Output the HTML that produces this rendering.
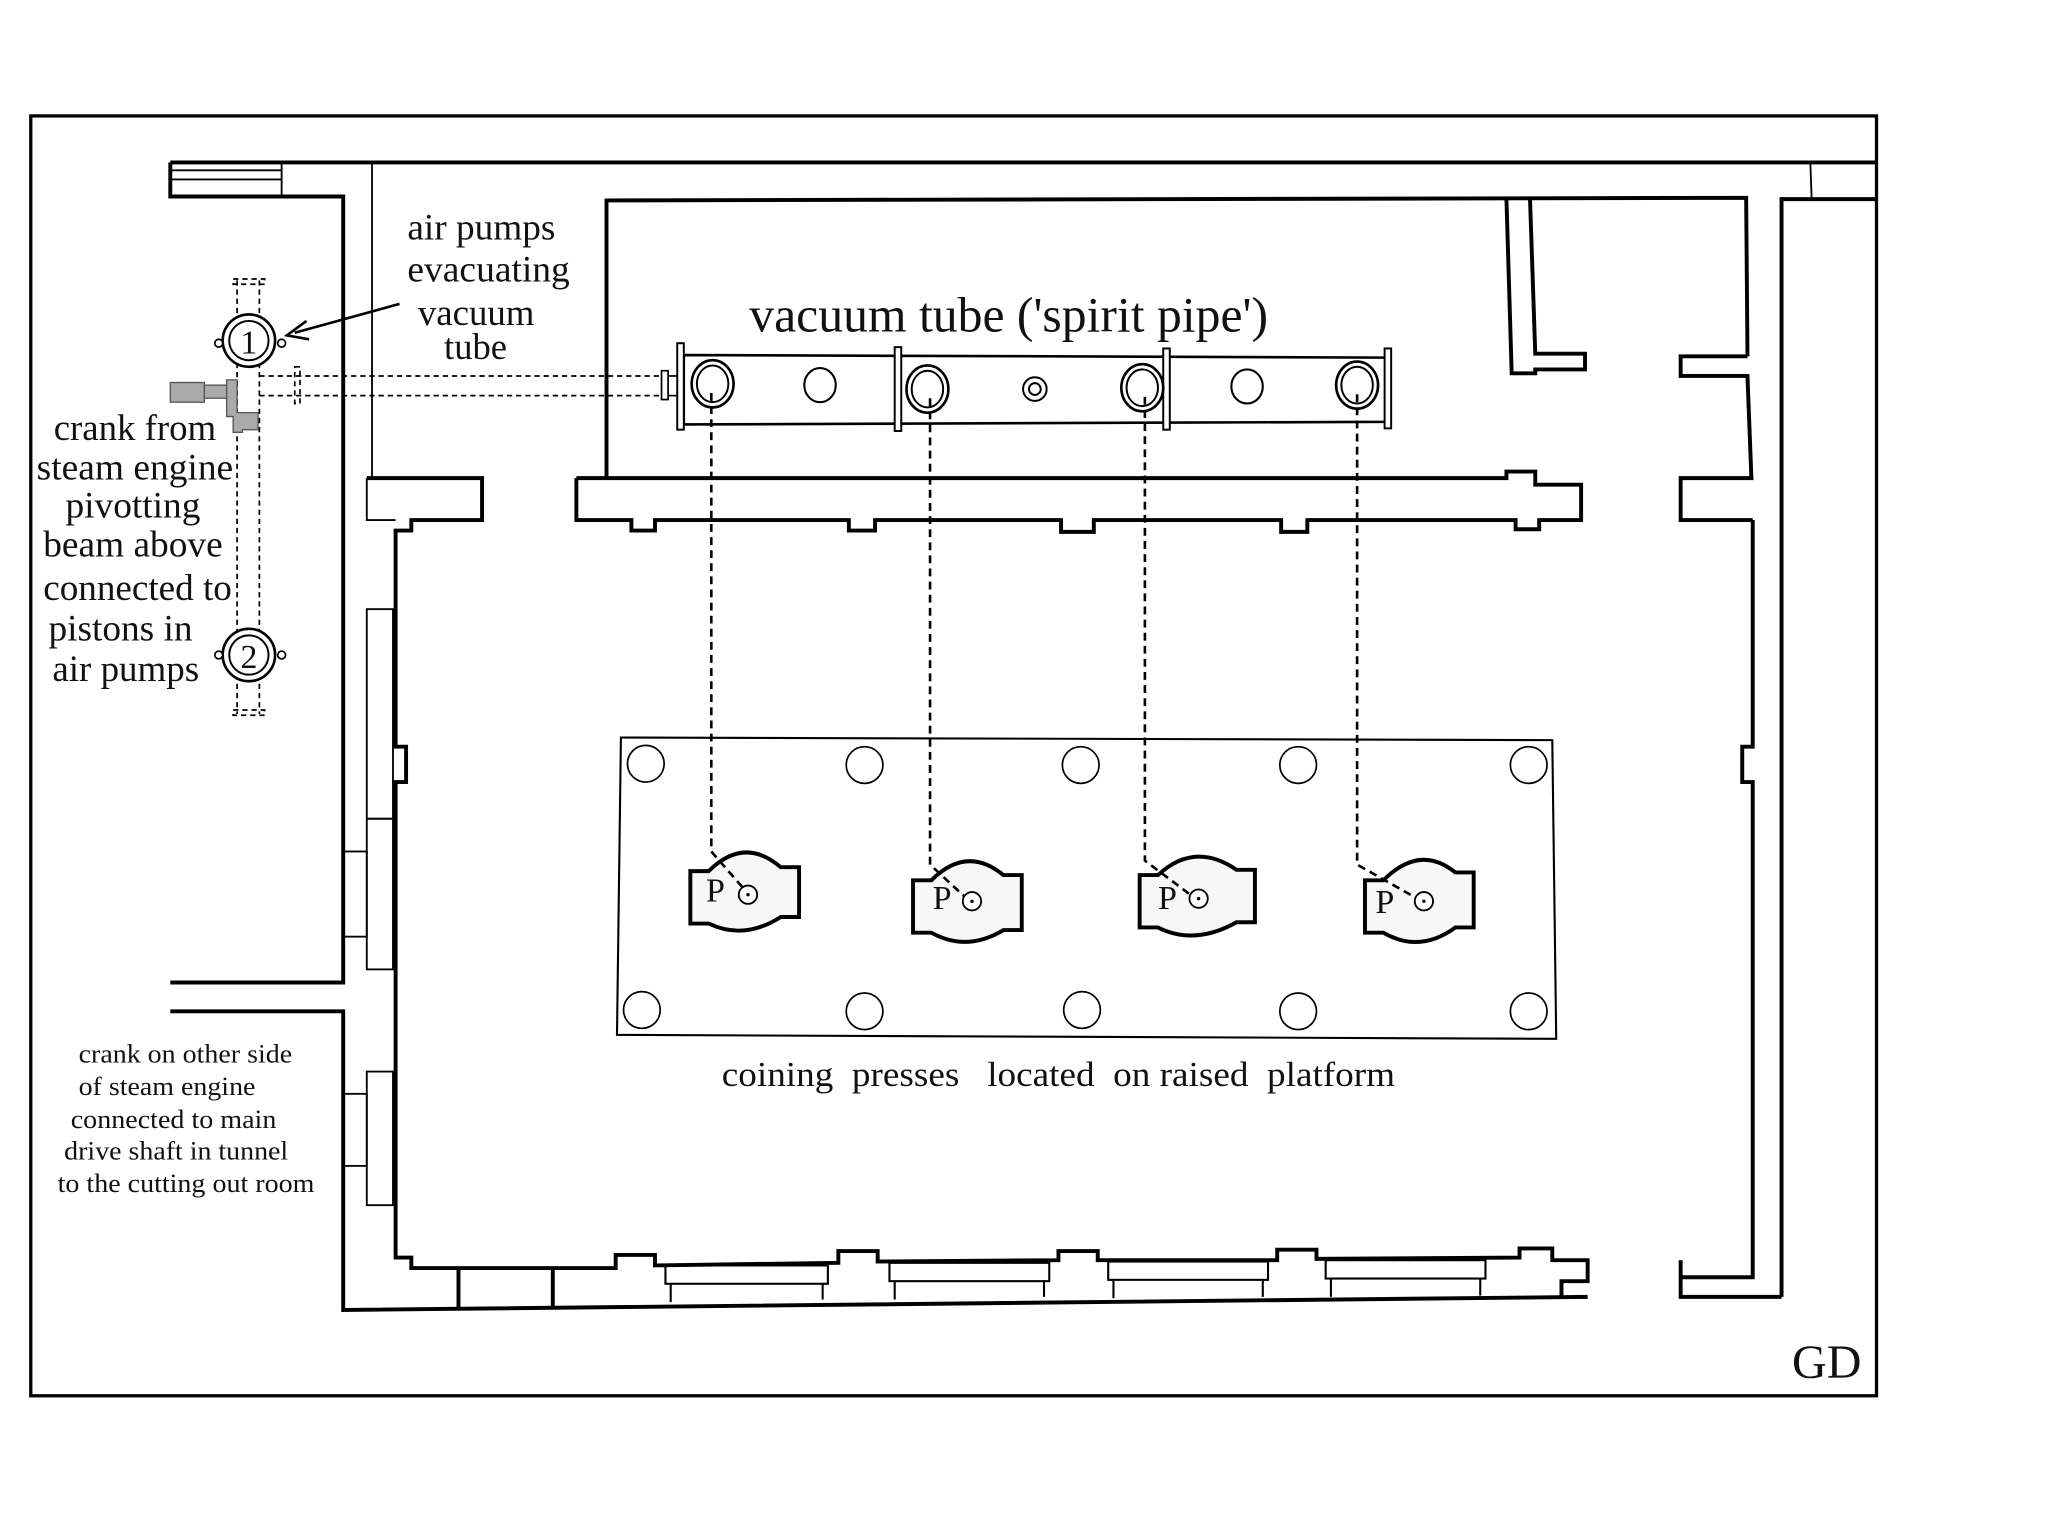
<!DOCTYPE html>
<html><head><meta charset="utf-8"><style>
html,body{margin:0;padding:0;background:#fff;}
svg{display:block;}
text{font-family:"Liberation Serif","Times New Roman",serif;fill:#111;}
</style></head><body>
<svg width="2054" height="1537" viewBox="0 0 1568 1173.3" preserveAspectRatio="none" xmlns="http://www.w3.org/2000/svg">
<rect x="0" y="0" width="1568" height="1174" fill="#fff"/>
<rect x="23.5" y="88.5" width="1409" height="977" fill="none" stroke="#000" stroke-width="2.5"/>

<g fill="none" stroke="#000" stroke-width="3" stroke-linejoin="miter">
<line x1="130" y1="124" x2="1432" y2="124"/>
<polyline points="130,124 130,150 262,150 262,750 130,750"/>
<polyline points="130,772 262,772 262,1000 1212,990"/>
<polyline points="1360,990 1360,152 1432,152"/>
<polyline points="280,365 368,365 368,397 314,397 314,405 302,405 302,570 310,570 310,597 302,597 302,960 314,960 314,968 470,968 470,958 500,958 500,966 640,964 640,955 670,955 670,963 808,962 808,955 838,955 838,962 975,962 975,954 1005,954 1005,961 1160,960 1160,953 1185,953 1185,962 1212,962 1212,978 1192,978 1192,990"/>
<polyline points="463,365 463,153 1333,151 1334,272"/>
<polyline points="440,365 440,397 482,397 482,405 500,405 500,397 648,397 648,405 668,405 668,397 810,397 810,406 835,406 835,397 978,397 978,406 998,406 998,397 1157,397 1157,404 1175,404 1175,397 1207,397 1207,370 1172,370 1172,360 1150,360 1150,365 440,365"/>
<polyline points="1150,152 1154,285 1172,285 1172,282 1210,282 1210,270 1172,270 1168,152"/>
<polyline points="1334,272 1283,272 1283,287 1334,287 1337,365 1283,365 1283,397 1338,397"/>
<polyline points="1338,397 1338,570 1330,570 1330,597 1338,597 1338,975 1283,975 1283,962 1283,990 1360,990"/>
</g>
<g fill="none" stroke="#000" stroke-width="1.4">
<line x1="130" y1="130" x2="215" y2="130"/><line x1="130" y1="137" x2="215" y2="137"/>
<line x1="215" y1="124" x2="215" y2="150"/>
<line x1="284" y1="124" x2="284" y2="365"/>
<line x1="1382" y1="124" x2="1383" y2="152"/>
<polyline points="280,365 280,397 302,397"/>
<rect x="280" y="465" width="20" height="160"/><rect x="280" y="625" width="20" height="115"/>
<rect x="262" y="650" width="18" height="65"/>
<rect x="280" y="818" width="20" height="102"/><rect x="262" y="835" width="18" height="55"/>
<g stroke-width="1.6">
<rect x="508" y="966" width="124" height="14"/><line x1="512" y1="980" x2="512" y2="994"/><line x1="628" y1="980" x2="628" y2="992"/>
<rect x="679" y="964" width="122" height="14"/><line x1="683" y1="978" x2="683" y2="992"/><line x1="797" y1="978" x2="797" y2="990"/>
<rect x="846" y="963" width="122" height="14"/><line x1="850" y1="977" x2="850" y2="991"/><line x1="964" y1="977" x2="964" y2="990"/>
<rect x="1012" y="962" width="122" height="14"/><line x1="1016" y1="976" x2="1016" y2="990"/><line x1="1130" y1="976" x2="1130" y2="989"/>
</g>
</g>
<line x1="350" y1="968" x2="350" y2="998" stroke="#000" stroke-width="3"/>
<line x1="422" y1="968" x2="422" y2="997" stroke="#000" stroke-width="3"/>

<g fill="none" stroke="#000" stroke-width="1.3" stroke-dasharray="4,3">
<line x1="181" y1="214" x2="181" y2="545"/><line x1="198" y1="214" x2="198" y2="545"/>
<rect x="178" y="213" width="24" height="4"/><rect x="178" y="542" width="24" height="4"/>
<line x1="198" y1="287" x2="508" y2="287"/><line x1="198" y1="302" x2="508" y2="302"/>
<rect x="225" y="280" width="4" height="28"/>
</g>
<g fill="#fff" stroke="#000" stroke-width="2">
<circle cx="190" cy="260" r="20"/><circle cx="190" cy="260" r="15" stroke-width="1.5"/>
<circle cx="190" cy="500" r="20"/><circle cx="190" cy="500" r="15" stroke-width="1.5"/>
</g>
<g fill="#fff" stroke="#000" stroke-width="1.3">
<circle cx="167" cy="262" r="3"/><circle cx="215" cy="262" r="3"/>
<circle cx="167" cy="500" r="3"/><circle cx="215" cy="500" r="3"/>
</g>
<text x="190" y="270" font-size="26" text-anchor="middle">1</text>
<text x="190" y="510" font-size="26" text-anchor="middle">2</text>
<g fill="#aaa" stroke="#555" stroke-width="1">
<rect x="130" y="292" width="26" height="15"/><rect x="156" y="294" width="20" height="10"/>
<polygon points="173,290 181,290 181,315 197,315 197,328 185,328 185,330 178,330 178,318 173,318"/>
</g>
<line x1="305" y1="232" x2="225" y2="254" stroke="#000" stroke-width="2"/>
<polyline points="234,245 219,256 236,259" fill="none" stroke="#000" stroke-width="2"/>

<g fill="#fff" stroke="#000" stroke-width="2">
<polygon points="522,271 1060,273 1060,322 522,324"/>
<rect x="505" y="283" width="5" height="22" stroke-width="1.3"/>
<line x1="510" y1="287" x2="517" y2="287" stroke-width="1.3"/><line x1="510" y1="302" x2="517" y2="302" stroke-width="1.3"/>
<rect x="517" y="262" width="5" height="66" stroke-width="1.5"/>
<rect x="683" y="265" width="5" height="64" stroke-width="1.5"/>
<rect x="888" y="266" width="5" height="62" stroke-width="1.5"/>
<rect x="1057" y="266" width="5" height="61" stroke-width="1.5"/>
<ellipse cx="544" cy="293" rx="16" ry="18"/><ellipse cx="544" cy="293" rx="12" ry="14" stroke-width="1.5"/>
<ellipse cx="708" cy="297" rx="16" ry="18"/><ellipse cx="708" cy="297" rx="12" ry="14" stroke-width="1.5"/>
<ellipse cx="872" cy="296" rx="16" ry="18"/><ellipse cx="872" cy="296" rx="12" ry="14" stroke-width="1.5"/>
<ellipse cx="1036" cy="294" rx="16" ry="18"/><ellipse cx="1036" cy="294" rx="12" ry="14" stroke-width="1.5"/>
<ellipse cx="626" cy="294" rx="12" ry="13" stroke-width="1.6"/>
<ellipse cx="952" cy="295" rx="12" ry="13" stroke-width="1.6"/>
<circle cx="790" cy="297" r="9" stroke-width="1.5"/><circle cx="790" cy="297" r="4.5" stroke-width="1.5"/>
</g>

<polygon points="474,563 1185,565 1188,793 471,790" fill="none" stroke="#000" stroke-width="1.6"/>
<g fill="none" stroke="#000" stroke-width="1.3">
<circle cx="493" cy="583" r="14"/><circle cx="660" cy="584" r="14"/><circle cx="825" cy="584" r="14"/><circle cx="991" cy="584" r="14"/><circle cx="1167" cy="584" r="14"/>
<circle cx="490" cy="771" r="14"/><circle cx="660" cy="772" r="14"/><circle cx="826" cy="771" r="14"/><circle cx="991" cy="772" r="14"/><circle cx="1167" cy="772" r="14"/>
</g>
<g fill="#f7f7f7" stroke="#000" stroke-width="3">
<path d="M527,665 L541,665 Q568,638 596,662 L610,662 L610,700 L596,700 Q568,718 541,705 L527,705 Z"/>
<path d="M697,672 L711,672 Q738,645 766,668 L780,668 L780,710 L766,710 Q738,727 711,712 L697,712 Z"/>
<path d="M870,668 L884,668 Q912,642 944,664 L958,664 L958,704 L944,704 Q912,722 884,708 L870,708 Z"/>
<path d="M1042,672 L1056,672 Q1084,644 1111,666 L1125,666 L1125,708 L1111,708 Q1084,728 1056,712 L1042,712 Z"/>
</g>
<g fill="none" stroke="#000" stroke-width="2" stroke-dasharray="6,4">
<polyline points="543,300 543,650 570,681"/>
<polyline points="710,304 710,660 738,686"/>
<polyline points="874,303 874,657 910,684"/>
<polyline points="1036,301 1036,660 1082,686"/>
</g>
<g fill="#fff" stroke="#000" stroke-width="1.4">
<circle cx="571" cy="683" r="7"/><circle cx="742" cy="688" r="7"/><circle cx="915" cy="686" r="7"/><circle cx="1087" cy="688" r="7"/>
</g>
<g fill="#000"><circle cx="571" cy="683" r="1.3"/><circle cx="742" cy="688" r="1.3"/><circle cx="915" cy="686" r="1.3"/><circle cx="1087" cy="688" r="1.3"/></g>
<g font-size="26">
<text x="539" y="688">P</text><text x="712" y="694">P</text><text x="884" y="694">P</text><text x="1050" y="697">P</text>
</g>

<g font-size="28">
<text x="311" y="183" textLength="113" lengthAdjust="spacingAndGlyphs">air pumps</text>
<text x="311" y="215" textLength="124" lengthAdjust="spacingAndGlyphs">evacuating</text>
<text x="319" y="248" textLength="89" lengthAdjust="spacingAndGlyphs">vacuum</text>
<text x="339" y="274" textLength="48" lengthAdjust="spacingAndGlyphs">tube</text>
<text x="41" y="336" textLength="124" lengthAdjust="spacingAndGlyphs">crank from</text>
<text x="28" y="366" textLength="150" lengthAdjust="spacingAndGlyphs">steam engine</text>
<text x="50" y="395" textLength="103" lengthAdjust="spacingAndGlyphs">pivotting</text>
<text x="33" y="425" textLength="137" lengthAdjust="spacingAndGlyphs">beam above</text>
<text x="33" y="458" textLength="144" lengthAdjust="spacingAndGlyphs">connected to</text>
<text x="37" y="489" textLength="110" lengthAdjust="spacingAndGlyphs">pistons in</text>
<text x="40" y="520" textLength="112" lengthAdjust="spacingAndGlyphs">air pumps</text>
</g>
<text x="572" y="253" font-size="38" textLength="396" lengthAdjust="spacingAndGlyphs">vacuum tube ('spirit pipe')</text>
<text x="551" y="829" font-size="27" textLength="514" lengthAdjust="spacingAndGlyphs" xml:space="preserve">coining  presses   located  on raised  platform</text>
<g font-size="20">
<text x="60" y="811" textLength="163" lengthAdjust="spacingAndGlyphs">crank on other side</text>
<text x="60" y="836" textLength="135" lengthAdjust="spacingAndGlyphs">of steam engine</text>
<text x="54" y="861" textLength="157" lengthAdjust="spacingAndGlyphs">connected to main</text>
<text x="49" y="885" textLength="171" lengthAdjust="spacingAndGlyphs">drive shaft in tunnel</text>
<text x="44" y="910" textLength="196" lengthAdjust="spacingAndGlyphs">to the cutting out room</text>
</g>
<text x="1368" y="1052" font-size="36" textLength="53" lengthAdjust="spacingAndGlyphs">GD</text>
</svg>
</body></html>
